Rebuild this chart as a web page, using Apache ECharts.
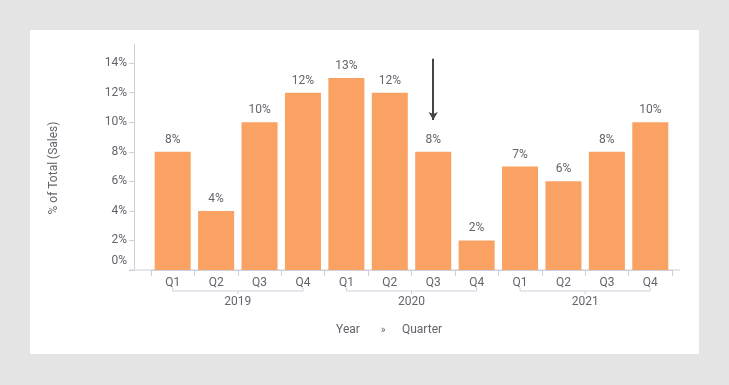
<!DOCTYPE html>
<html><head><meta charset="utf-8">
<script src="https://cdn.jsdelivr.net/npm/echarts@6/dist/echarts.min.js"></script>
<style>
html,body{margin:0;padding:0;background:#e4e4e4;width:729px;height:385px;overflow:hidden}
#panel{position:absolute;left:30px;top:30px;width:669px;height:324px;background:#fff}
#c{position:absolute;left:0;top:0;width:729px;height:385px}
</style></head>
<body><div id="panel"></div><div id="c"></div>
<script>
const quarters = ['Q1','Q2','Q3','Q4','Q1','Q2','Q3','Q4','Q1','Q2','Q3','Q4'];
const years = ['2019','2020','2021'];
const values = [8,4,10,12,13,12,8,2,7,6,8,10];
const yTicks = [0,2,4,6,8,10,12,14];

const txt = '#62656c';
const axisCol = '#cfcfdc';
const chart = echarts.init(document.getElementById('c'));
const option = {
  animation:false,
  textStyle:{fontFamily:'Roboto'},
  grid:{left:151,right:57,top:44,bottom:115},
  xAxis:{type:'category',data:quarters,
    axisLine:{lineStyle:{color:axisCol}},
    axisTick:{show:true,interval:0,length:6,lineStyle:{color:axisCol}},
    axisLabel:{color:txt,fontSize:12,margin:7,interval:0}},
  yAxis:{type:'value',min:0,max:15.3,offset:17,
    splitLine:{show:false},
    axisLine:{show:true,lineStyle:{color:axisCol}},
    axisTick:{show:true,length:5,lineStyle:{color:axisCol},customValues:yTicks},
    axisLabel:{color:txt,fontSize:12,margin:7,customValues:yTicks,
      formatter:v=> v===0 ? '{z|0%}' : v+'%',
      rich:{z:{color:txt,fontSize:12,padding:[0,0,18,0]}}},
    name:'% of Total (Sales)',nameLocation:'middle',nameGap:74,nameRotate:90,
    nameTextStyle:{color:txt,fontSize:12,padding:[0,0,0,-22]}},
  series:[{type:'bar',data:values,barCategoryGap:'17%',
    itemStyle:{color:'#FAA264'},
    label:{show:true,position:'top',distance:6,color:txt,fontSize:12,formatter:p=>p.value+'%'},
    markLine:{silent:true,symbol:['none','arrow'],symbolSize:[7,8],label:{show:false},
      lineStyle:{color:'#444',width:2,type:'solid'},
      data:[[{coord:[6,14.3]},{coord:[6,10.15]}]]}
  }]
};
chart.setOption(option);

const gr = [];
const y0 = chart.convertToPixel({yAxisIndex:0},0);
gr.push({type:'line',shape:{x1:129,y1:y0,x2:680,y2:y0},style:{stroke:axisCol,lineWidth:1}});
years.forEach((yr,i)=>{
  const xa = chart.convertToPixel({xAxisIndex:0},i*4);
  const xb = chart.convertToPixel({xAxisIndex:0},i*4+3);
  const by = y0+21;
  gr.push({type:'polyline',shape:{points:[[xa,by-3],[xa,by],[xb,by],[xb,by-3]]},style:{stroke:axisCol,fill:null,lineWidth:1}});
  gr.push({type:'line',shape:{x1:(xa+xb)/2,y1:by,x2:(xa+xb)/2,y2:by+3},style:{stroke:axisCol,lineWidth:1}});
  gr.push({type:'text',x:(xa+xb)/2,y:by+11,style:{text:yr,fill:txt,font:'12px Roboto',align:'center',verticalAlign:'middle'}});
});
gr.push({type:'text',x:348,y:330,style:{text:'Year',fill:txt,font:'12px Roboto',align:'center',verticalAlign:'middle'}});
gr.push({type:'text',x:383,y:330,style:{text:'»',fill:txt,font:'10px Roboto',align:'center',verticalAlign:'middle'}});
gr.push({type:'text',x:422,y:330,style:{text:'Quarter',fill:txt,font:'12px Roboto',align:'center',verticalAlign:'middle'}});
chart.setOption({graphic:gr});
</script></body></html>
